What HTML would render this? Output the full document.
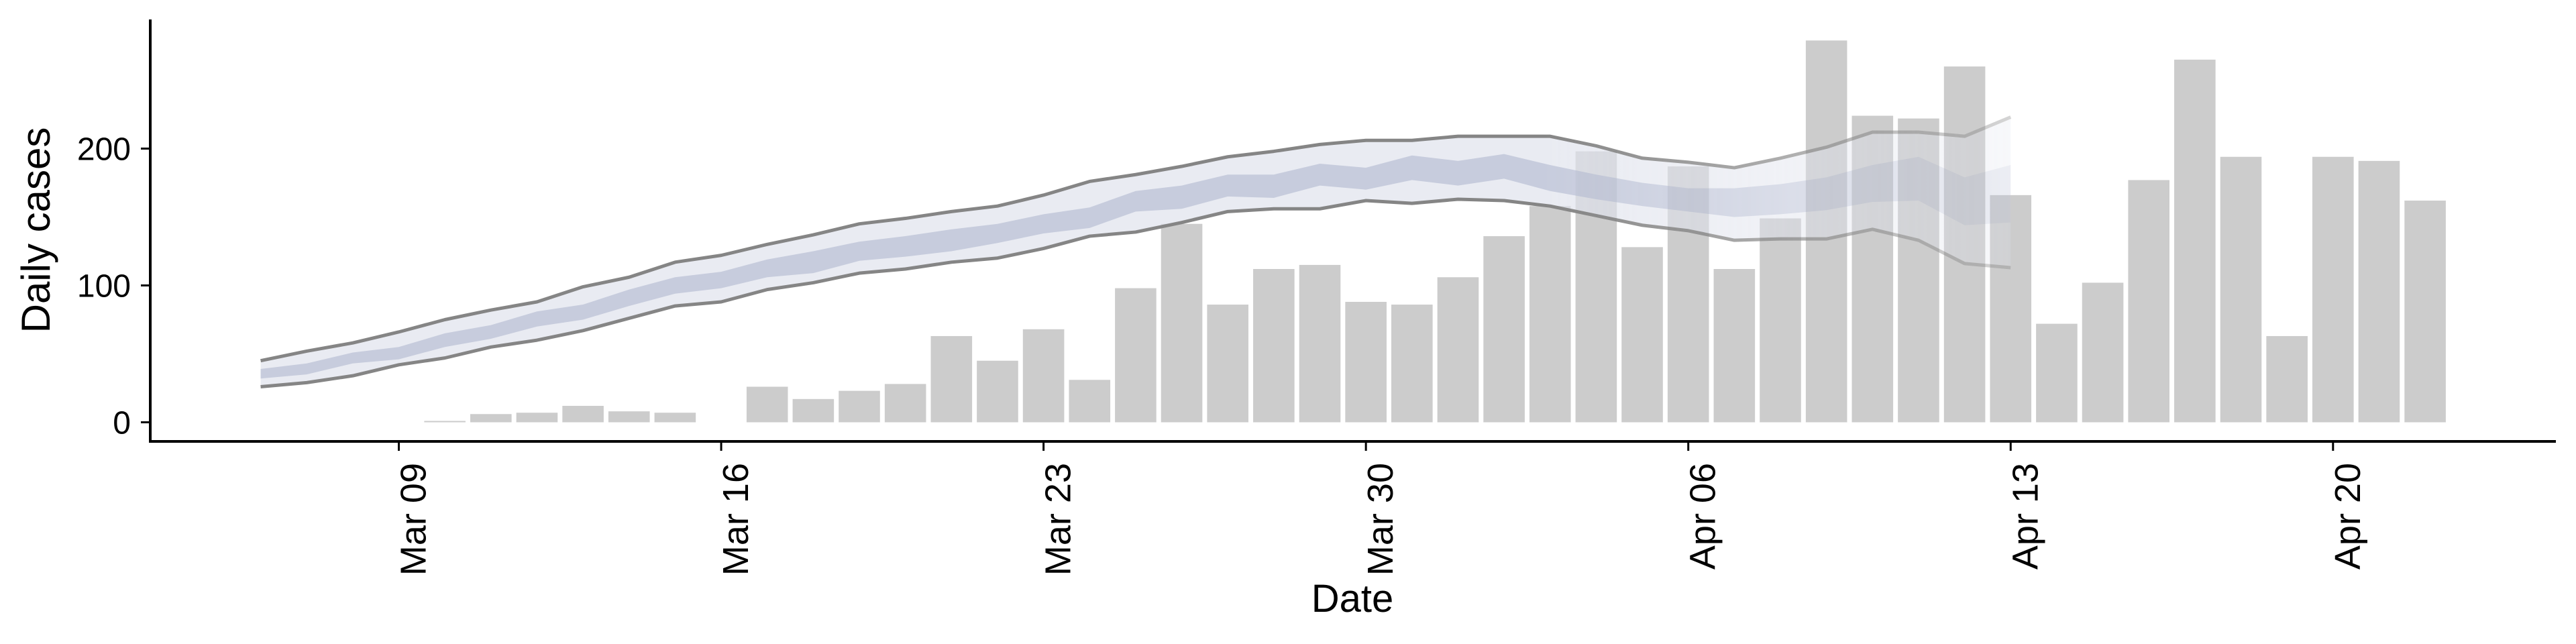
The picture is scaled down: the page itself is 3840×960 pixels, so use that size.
<!DOCTYPE html>
<html><head><meta charset="utf-8"><style>
html,body{margin:0;padding:0;background:#fff;}
svg{display:block;font-family:"Liberation Sans",sans-serif;}
</style></head><body>
<svg id="chart" width="3840" height="960" viewBox="0 0 3840 960" xmlns="http://www.w3.org/2000/svg">
<defs>
<linearGradient id="fade" gradientUnits="userSpaceOnUse" x1="2300" y1="0" x2="3000" y2="0">
<stop offset="0" stop-color="#fff" stop-opacity="1"/>
<stop offset="1" stop-color="#fff" stop-opacity="0.35"/>
</linearGradient>
<mask id="bandMask"><rect x="0" y="0" width="3840" height="960" fill="url(#fade)"/></mask>
</defs>
<g id="bars"></g>
<g id="band" mask="url(#bandMask)"></g>
<g id="axes"></g>
</svg>
<script>
// data (day offsets from Mar 09)
const barDays = [1,2,3,4,5,6,7,8,9,10,11,12,13,14,15,16,17,18,19,20,21,22,23,24,25,26,27,28,29,30,31,32,33,34,35,36,37,38,39,40,41,42,43,44];
const barValues = [1,6,7,12,8,7,0,26,17,23,28,63,45,68,31,98,145,86,112,115,88,86,106,136,158,198,128,187,112,149,279,224,222,260,166,72,102,177,265,194,63,194,191,162];
const bandDays = [-3,-2,-1,0,1,2,3,4,5,6,7,8,9,10,11,12,13,14,15,16,17,18,19,20,21,22,23,24,25,26,27,28,29,30,31,32,33,34,35];
const outerUpper = [45,52,58,66,75,82,88,99,106,117,122,130,137,145,149,154,158,166,176,181,187,194,198,203,206,206,209,209,209,202,193,190,186,193,201,212,212,209,223];
const outerLower = [26,29,34,42,47,55,60,67,76,85,88,97,102,109,112,117,120,127,136,139,146,154,156,156,162,160,163,162,158,151,144,140,133,134,134,141,133,116,113];
const innerUpper = [39,43,51,55,65,71,81,86,97,106,110,119,125,132,136,141,145,152,157,169,173,181,181,189,186,195,191,196,188,181,175,171,171,174,179,188,194,179,188];
const innerLower = [32,35,43,46,55,61,70,75,85,94,98,106,109,118,121,125,131,138,142,154,156,165,164,173,170,177,173,178,169,163,158,154,150,152,155,161,162,144,146];
const xTickDays = [0,7,14,21,28,35,42];
const xTickLabels = ["Mar 09","Mar 16","Mar 23","Mar 30","Apr 06","Apr 13","Apr 20"];
const yTicks = [0,100,200];

const NS = "http://www.w3.org/2000/svg";
const x = d => 594.5 + d * 68.65;
const y = v => 629.5 - v * 2.04;
function mk(tag, attrs, parent){const e=document.createElementNS(NS,tag);for(const k in attrs)e.setAttribute(k,attrs[k]);parent.appendChild(e);return e;}

const gb = document.getElementById('bars');
barDays.forEach((d,i)=>{
  const v = barValues[i]; if(v<=0) return;
  const r = mk('rect',{x:x(d)-30.8,y:y(v),width:61.6,height:y(0)-y(v),fill:'#cccccc'},gb);
  
  
});

const gband = document.getElementById('band');
function area(up,lo){
  let p = bandDays.map((d,i)=>(i?'L':'M')+x(d)+','+y(up[i])).join(' ');
  p += ' ' + bandDays.slice().reverse().map((d,j)=>{const i=bandDays.length-1-j;return 'L'+x(d)+','+y(lo[i]);}).join(' ') + ' Z';
  return p;
}
function line(vals){return bandDays.map((d,i)=>(i?'L':'M')+x(d)+','+y(vals[i])).join(' ');}
const o = mk('path',{d:area(outerUpper,outerLower),fill:'#dfe2ec','fill-opacity':0.7},gband);


const inn = mk('path',{d:area(innerUpper,innerLower),fill:'#b4bbd1','fill-opacity':0.65},gband);


const lu = mk('path',{d:line(outerUpper),fill:'none',stroke:'#858585','stroke-width':5,'stroke-linejoin':'round'},gband);


const ll = mk('path',{d:line(outerLower),fill:'none',stroke:'#858585','stroke-width':5,'stroke-linejoin':'round'},gband);



const ga = document.getElementById('axes');
const ya = mk('line',{x1:224,y1:29,x2:224,y2:660,stroke:'#000','stroke-width':4},ga);


const xa = mk('line',{x1:222,y1:658,x2:3810,y2:658,stroke:'#000','stroke-width':4},ga);


yTicks.forEach(v=>{
  mk('line',{x1:210,y1:y(v),x2:224,y2:y(v),stroke:'#000','stroke-width':3},ga);
  const t = mk('text',{x:195,y:y(v)+17,'text-anchor':'end','font-size':48,fill:'#000'},ga);
  t.textContent = v;
  
  
});
xTickDays.forEach((d,i)=>{
  mk('line',{x1:x(d),y1:658,x2:x(d),y2:672,stroke:'#000','stroke-width':3},ga);
  const t = mk('text',{x:0,y:0,'text-anchor':'end','font-size':54,fill:'#000',transform:'translate('+(x(d)+40)+',690) rotate(-90)'},ga);
  t.textContent = xTickLabels[i];
  
  
});
const xt = mk('text',{x:2016,y:912,'text-anchor':'middle','font-size':58,fill:'#000'},ga);
xt.textContent = 'Date';


const yt = mk('text',{x:0,y:0,'text-anchor':'middle','font-size':60,fill:'#000',transform:'translate(74,343) rotate(-90)'},ga);
yt.textContent = 'Daily cases';


</script>
</body></html>
